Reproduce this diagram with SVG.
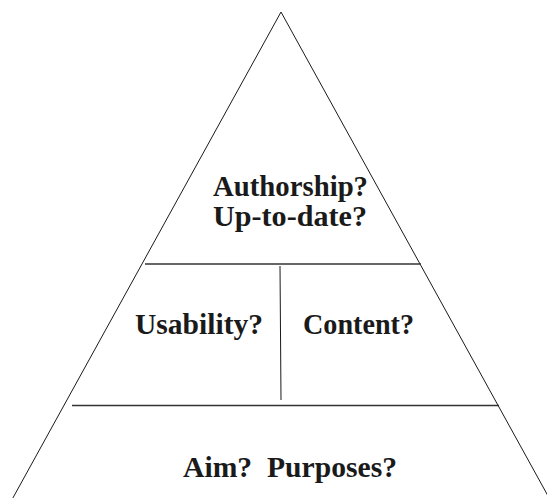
<svg xmlns="http://www.w3.org/2000/svg" width="547" height="498" viewBox="0 0 547 498">
  <style>
    .edge { stroke: #1a1a1a; stroke-width: 1; fill: none; }
    .div { stroke: #333; stroke-width: 1.5; fill: none; }
    .label { font-family: "Liberation Serif", "Times New Roman", serif; font-weight: bold; font-size: 29px; fill: #1a1a1a; }
  </style>
  <rect width="547" height="498" fill="#fff"/>
  <g id="connectors">
    <!-- outer triangle, base runs past the canvas -->
    <path class="edge" d="M9,505 L281,12 L553,505"/>
    <!-- tier dividers -->
    <line class="div" x1="145" y1="264" x2="421" y2="264"/>
    <line class="div" x1="72" y1="405.5" x2="499" y2="405.5"/>
    <line class="edge" x1="280" y1="266" x2="281" y2="400"/>
  </g>
  <g id="top">
    <text class="label" x="213" y="196" textLength="155" lengthAdjust="spacingAndGlyphs">Authorship?</text>
    <text class="label" x="213" y="226" textLength="154" lengthAdjust="spacingAndGlyphs">Up-to-date?</text>
  </g>
  <g id="usability">
    <text class="label" x="135" y="334" textLength="128" lengthAdjust="spacingAndGlyphs">Usability?</text>
  </g>
  <g id="content">
    <text class="label" x="303" y="334" textLength="111" lengthAdjust="spacingAndGlyphs">Content?</text>
  </g>
  <g id="bottom">
    <text class="label" x="183" y="477" textLength="214" lengthAdjust="spacingAndGlyphs" xml:space="preserve">Aim?  Purposes?</text>
  </g>
</svg>
